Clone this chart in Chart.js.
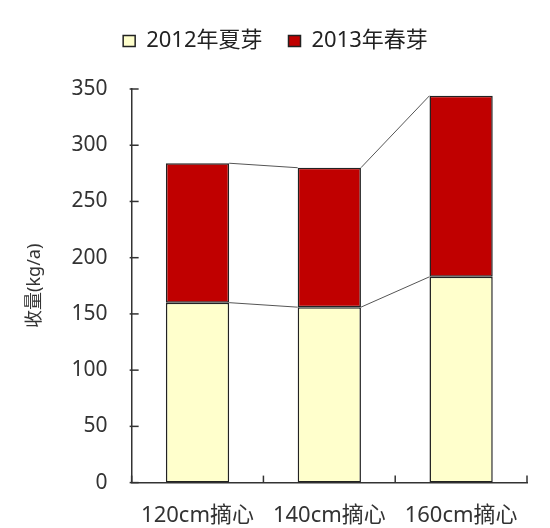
<!DOCTYPE html>
<html>
<head>
<meta charset="utf-8">
<script src="https://cdn.jsdelivr.net/npm/chart.js@4"></script>
<style>
  html, body { margin: 0; padding: 0; background: #fff; }
  #wrap { width: 550px; height: 528px; }
</style>
</head>
<body>
<div id="wrap"><canvas id="yieldChart"></canvas></div>
<script>
// 摘心高度别收量
const categories = ['120cm摘心', '140cm摘心', '160cm摘心'];
const summerBuds2012 = [160, 156, 183];
const springBuds2013 = [124, 124, 161];
const seriesNames = ['2012年夏芽', '2013年春芽'];
const yTicks = [0, 50, 100, 150, 200, 250, 300, 350];

const FONT = '"Noto Sans", "Noto Sans CJK SC", sans-serif';
const AXIS_COLOR = '#333';

// 柱顶之间的连接线
const seriesLines = {
    id: 'seriesLines',
    afterDatasetsDraw(chart) {
        const ctx = chart.ctx;
        ctx.save();
        ctx.strokeStyle = '#555';
        ctx.lineWidth = 1;
        chart.data.datasets.forEach((ds, di) => {
            const bars = chart.getDatasetMeta(di).data;
            for (let i = 0; i < bars.length - 1; i++) {
                const a = bars[i], b = bars[i + 1];
                ctx.beginPath();
                ctx.moveTo(a.x + a.width / 2, a.y);
                ctx.lineTo(b.x - b.width / 2, b.y);
                ctx.stroke();
            }
        });
        ctx.restore();
    }
};

// 坐标轴内侧刻度线
const innerTicks = {
    id: 'innerTicks',
    afterDraw(chart) {
        const ctx = chart.ctx;
        const x = chart.scales.x, y = chart.scales.y;
        ctx.save();
        ctx.strokeStyle = AXIS_COLOR;
        ctx.lineWidth = 1.5;
        yTicks.forEach(v => {
            const py = y.getPixelForValue(v);
            ctx.beginPath();
            ctx.moveTo(x.left - 2, py);
            ctx.lineTo(x.left + 7, py);
            ctx.stroke();
        });
        const step = (x.right - x.left) / categories.length;
        for (let i = 0; i <= categories.length; i++) {
            const px = x.left + step * i;
            ctx.beginPath();
            ctx.moveTo(px, y.bottom);
            ctx.lineTo(px, y.bottom - 7);
            ctx.stroke();
        }
        ctx.restore();
    }
};

// 图例下方留出空白
const legendGap = {
    id: 'legendGap',
    beforeInit(chart) {
        const fit = chart.legend.fit;
        chart.legend.fit = function () {
            fit.call(this);
            this.height += 27;
        };
    }
};

const ctx = document.getElementById('yieldChart').getContext('2d');
new Chart(ctx, {
    type: 'bar',
    data: {
        labels: categories,
        datasets: [
            {
                label: seriesNames[0],
                data: summerBuds2012,
                backgroundColor: '#FFFFCC',
                borderColor: '#222',
                borderWidth: 1.5,
                borderSkipped: false,
                barPercentage: 0.48,
                categoryPercentage: 1
            },
            {
                label: seriesNames[1],
                data: springBuds2013,
                backgroundColor: '#C00000',
                borderColor: '#222',
                borderWidth: 1.5,
                borderSkipped: false,
                barPercentage: 0.48,
                categoryPercentage: 1
            }
        ]
    },
    options: {
        responsive: true,
        maintainAspectRatio: false,
        animation: false,
        layout: {
            padding: { left: 24, right: 23, top: 4, bottom: -21 }
        },
        scales: {
            x: {
                stacked: true,
                grid: { display: false, drawTicks: false },
                border: { color: AXIS_COLOR, width: 1.5 },
                ticks: {
                    color: '#333',
                    font: { family: FONT, size: 22 },
                    padding: 20,
                    maxRotation: 0
                }
            },
            y: {
                stacked: true,
                min: 0,
                max: 350,
                afterBuildTicks: axis => {
                    axis.ticks = yTicks.map(v => ({ value: v }));
                },
                grid: { display: false, drawTicks: false },
                border: { color: AXIS_COLOR, width: 1.5 },
                ticks: {
                    color: '#333',
                    font: { family: FONT, size: 21 },
                    padding: 24
                },
                title: {
                    display: true,
                    text: '收量(kg/a)',
                    color: '#333',
                    font: { family: FONT, size: 18 },
                    padding: { top: 0, bottom: 2 }
                }
            }
        },
        plugins: {
            legend: {
                position: 'top',
                labels: {
                    color: '#222',
                    font: { family: FONT, size: 22 },
                    boxWidth: 12,
                    boxHeight: 11,
                    padding: 26
                }
            },
            tooltip: { enabled: false }
        }
    },
    plugins: [seriesLines, innerTicks, legendGap]
});
</script>
</body>
</html>
